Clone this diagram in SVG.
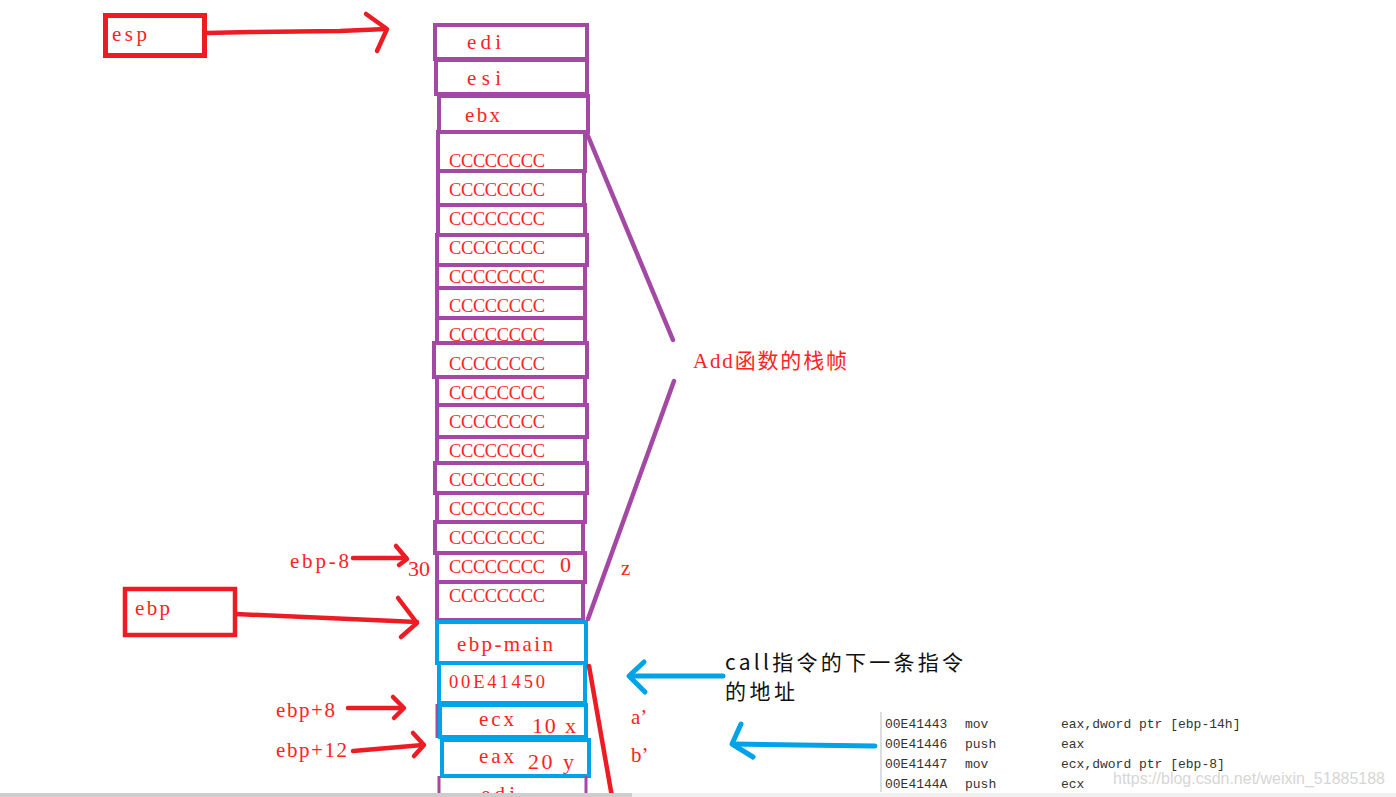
<svg xmlns="http://www.w3.org/2000/svg" width="1396" height="797" viewBox="0 0 1396 797">
<style>
.p{fill:none;stroke:#a349a4;stroke-width:4}
.b{fill:none;stroke:#00a2e8;stroke-width:4}
.r{fill:none;stroke:#ed1c24;stroke-width:4.5;stroke-linecap:round;stroke-linejoin:round}
.bl{fill:none;stroke:#00a2e8;stroke-width:5;stroke-linecap:round;stroke-linejoin:round}
.pl{fill:none;stroke:#a349a4;stroke-width:4.5;stroke-linecap:round}
.t{font-family:"Liberation Serif","Noto Sans CJK SC",serif;font-size:21px;fill:#f22}
.cc{font-family:"Liberation Serif",serif;font-size:18.5px;fill:#f22}
.n{font-family:"Liberation Serif",serif;font-size:22px;fill:#f22}
.k{font-family:"Noto Sans CJK SC","Liberation Sans",sans-serif;font-size:21px;fill:#111}
.c{font-family:"Liberation Mono",monospace;font-size:13px;fill:#333}
</style>
<rect width="1396" height="797" fill="#fff"/>
<g id="esp"><rect x="105.5" y="15.5" width="99" height="40" fill="none" stroke="#ed1c24" stroke-width="5"/><text class="t" x="112" y="41" textLength="35" lengthAdjust="spacing">esp</text></g>
<g id="ebp"><rect x="125" y="589" width="110" height="46" fill="none" stroke="#ed1c24" stroke-width="4.5"/><text class="t" x="135" y="615" textLength="35" lengthAdjust="spacing">ebp</text></g>
<g id="s-edi"><rect class="p" x="435" y="25" width="152" height="34"/><text class="t" x="467" y="49" textLength="34" lengthAdjust="spacing">edi</text></g>
<g id="s-esi"><rect class="p" x="436" y="60" width="151" height="34"/><text class="t" x="467" y="85" textLength="34" lengthAdjust="spacing">esi</text></g>
<g id="s-ebx"><rect class="p" x="439" y="96" width="149" height="36"/><text class="t" x="465" y="122" textLength="35" lengthAdjust="spacing">ebx</text></g>
<g id="s-c1"><rect class="p" x="438" y="132" width="147" height="39"/><text class="cc" x="449" y="167" textLength="96">CCCCCCCC</text></g>
<g id="s-c2"><rect class="p" x="438" y="171" width="146" height="34"/><text class="cc" x="449" y="196" textLength="96">CCCCCCCC</text></g>
<g id="s-c3"><rect class="p" x="438" y="205" width="147" height="30"/><text class="cc" x="449" y="225" textLength="96">CCCCCCCC</text></g>
<g id="s-c4"><rect class="p" x="437" y="235" width="150" height="30"/><text class="cc" x="449" y="254" textLength="96">CCCCCCCC</text></g>
<g id="s-c5"><rect class="p" x="437" y="265" width="148" height="23"/><text class="cc" x="449" y="283" textLength="96">CCCCCCCC</text></g>
<g id="s-c6"><rect class="p" x="437" y="288" width="148" height="30"/><text class="cc" x="449" y="312" textLength="96">CCCCCCCC</text></g>
<g id="s-c7"><rect class="p" x="437" y="318" width="148" height="25"/><text class="cc" x="449" y="341" textLength="96">CCCCCCCC</text></g>
<g id="s-c8"><rect class="p" x="434" y="343" width="153" height="34"/><text class="cc" x="449" y="370" textLength="96">CCCCCCCC</text></g>
<g id="s-c9"><rect class="p" x="437" y="377" width="148" height="28"/><text class="cc" x="449" y="399" textLength="96">CCCCCCCC</text></g>
<g id="s-c10"><rect class="p" x="437" y="405" width="150" height="32"/><text class="cc" x="449" y="428" textLength="96">CCCCCCCC</text></g>
<g id="s-c11"><rect class="p" x="437" y="437" width="148" height="26"/><text class="cc" x="449" y="457" textLength="96">CCCCCCCC</text></g>
<g id="s-c12"><rect class="p" x="435" y="463" width="152" height="30"/><text class="cc" x="449" y="486" textLength="96">CCCCCCCC</text></g>
<g id="s-c13"><rect class="p" x="437" y="493" width="148" height="29"/><text class="cc" x="449" y="515" textLength="96">CCCCCCCC</text></g>
<g id="s-c14"><rect class="p" x="435" y="522" width="148" height="31"/><text class="cc" x="449" y="544" textLength="96">CCCCCCCC</text></g>
<g id="s-c15"><rect class="p" x="437" y="553" width="148" height="29"/><text class="cc" x="449" y="573" textLength="96">CCCCCCCC</text><text class="n" x="560" y="572">0</text></g>
<g id="s-c16"><rect class="p" x="437" y="582" width="146" height="38"/><text class="cc" x="449" y="602" textLength="96">CCCCCCCC</text></g>
<g id="s-ebpmain"><rect class="b" x="437" y="622" width="149" height="41"/><text class="t" x="457" y="651" textLength="96" lengthAdjust="spacing">ebp-main</text></g>
<g id="s-ret"><rect class="b" x="439" y="663" width="146" height="40"/><text class="cc" x="449" y="688" textLength="96">00E41450</text></g>
<g id="s-ecx"><line x1="437" y1="704" x2="437" y2="738" stroke="#a349a4" stroke-width="3"/><rect class="b" x="440" y="705" width="146" height="32"/><text class="t" x="479" y="726" textLength="35" lengthAdjust="spacing">ecx</text><text class="n" x="532" y="733" textLength="44" lengthAdjust="spacing">10 x</text></g>
<g id="s-eax"><rect class="b" x="442" y="740" width="147" height="36"/><text class="t" x="479" y="763" textLength="35" lengthAdjust="spacing">eax</text><text class="n" x="528" y="769" textLength="46" lengthAdjust="spacing">20 y</text></g>
<g id="s-edi2"><path d="M439 776V797M586 776V797" stroke="#a349a4" stroke-width="3" fill="none"/><text class="t" x="481" y="801" textLength="34" lengthAdjust="spacing">edi</text></g>
<g id="labels">
<text class="t" x="290" y="568" textLength="59" lengthAdjust="spacing">ebp-8</text>
<text class="n" x="408" y="576">30</text>
<text class="t" x="621" y="575">z</text>
<text class="t" x="276" y="717" textLength="59" lengthAdjust="spacing">ebp+8</text>
<text class="t" x="276" y="757" textLength="71" lengthAdjust="spacing">ebp+12</text>
<text class="t" x="631" y="724">a’</text>
<text class="t" x="631" y="762">b’</text>
<text class="t" x="693" y="368" textLength="154" lengthAdjust="spacing">Add函数的栈帧</text>
<text class="k" x="725" y="670" textLength="238" lengthAdjust="spacing">call指令的下一条指令</text>
<text class="k" x="725" y="699" textLength="70" lengthAdjust="spacing">的地址</text>
</g>
<g id="code">
<line x1="881" y1="712" x2="881" y2="792" stroke="#ddd" stroke-width="2"/>
<text class="c" x="885" y="728">00E41443</text><text class="c" x="965" y="728">mov</text><text class="c" x="1061" y="728">eax,dword ptr [ebp-14h]</text>
<text class="c" x="885" y="748">00E41446</text><text class="c" x="965" y="748">push</text><text class="c" x="1061" y="748">eax</text>
<text class="c" x="885" y="768">00E41447</text><text class="c" x="965" y="768">mov</text><text class="c" x="1061" y="768">ecx,dword ptr [ebp-8]</text>
<text class="c" x="885" y="788">00E4144A</text><text class="c" x="965" y="788">push</text><text class="c" x="1061" y="788">ecx</text>
<text x="1113" y="784" font-family="Liberation Sans,sans-serif" font-size="17" fill="#d6d6d6" textLength="272" lengthAdjust="spacingAndGlyphs">https://blog.csdn.net/weixin_51885188</text>
</g>
<g id="connectors">
<path class="r" d="M207 33L250 32L340 31L386 29"/>
<path class="r" d="M366 14L387 29L377 51"/>
<path class="r" d="M236 614L417 622"/>
<path class="r" d="M398 598L417 623L401 637"/>
<path class="r" d="M353 558L406 558"/>
<path class="r" d="M396 546L407 559L399 565"/>
<path class="r" d="M348 708L403 708"/>
<path class="r" d="M393 697L404 708L394 718"/>
<path class="r" d="M353 751L423 745"/>
<path class="r" d="M413 733L424 745L414 756"/>
<path class="r" d="M589 666L612 797"/>
<path class="pl" d="M588 136L673 340"/>
<path class="pl" d="M674 381L588 619"/>
<path class="bl" d="M723 676L630 676"/>
<path class="bl" d="M644 662L629 676L645 692"/>
<path class="bl" d="M875 746L733 744"/>
<path class="bl" d="M741 724L732 744L753 757"/>
</g>
<rect x="0" y="793" width="1396" height="4" fill="#f0f0f0"/>
<rect x="0" y="793" width="632" height="4" fill="#cdcdcd"/>
</svg>
